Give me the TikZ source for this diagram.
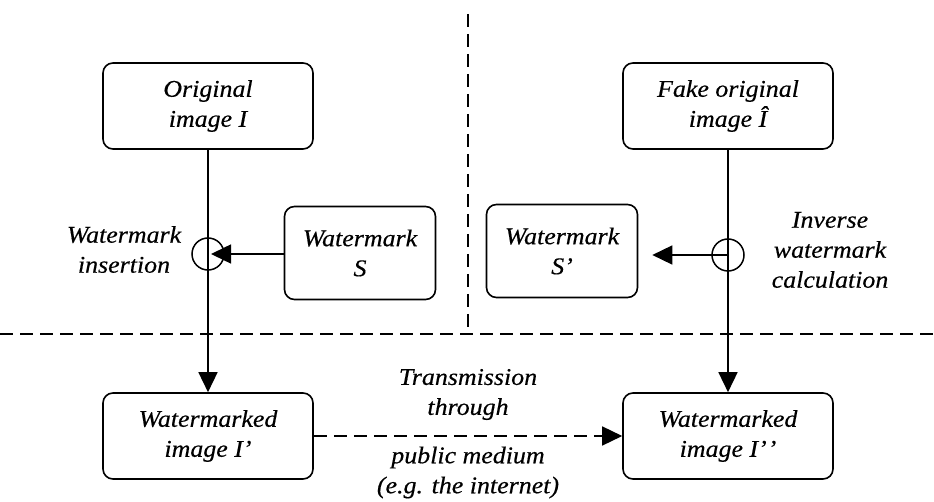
\documentclass[tikz,border=0pt]{standalone}
\usepackage{fontspec}
\newfontfamily\lbl{Liberation Serif}[FakeStretch=1.08, FakeBold=0.4]
\usetikzlibrary{arrows.meta}
\begin{document}
\begin{tikzpicture}[x=1pt,y=-1pt,
  font=\lbl\itshape\fontsize{24}{30}\selectfont,
  every node/.style={align=center},
  box/.style={draw, line width=1.6pt, rounded corners=10pt, inner sep=0pt},
  bigbox/.style={box, minimum width=210pt, minimum height=86pt},
  smallbox/.style={box, minimum width=151pt, minimum height=93pt},
  ring/.style={draw, circle, line width=1.5pt, minimum size=32pt, inner sep=0pt},
  conn/.style={line width=1.5pt},
  arr/.style={conn, -{Triangle[length=20pt, width=19pt]}},
  div/.style={line width=1.5pt, dash pattern=on 13pt off 7pt},
  tdash/.style={dash pattern=on 13pt off 7pt}]
\useasboundingbox (0,0) rectangle (934,502);

% dividers
\coordinate (vt) at (468,14);
\coordinate (vb) at (468,334);
\coordinate (hl) at (0,334);
\coordinate (hr) at (934,334);
\draw[div] (vt) -- (vb);
\draw[div] (hl) -- (hr);

% boxes
\node[bigbox] (orig) at (208,106) {Original\\image I};
\node[bigbox] (fake) at (728,106) {Fake original\\image Î};
\node[smallbox] (ws) at (360,253) {Watermark\\S};
\node[smallbox] (ws2) at (562,251) {Watermark\\S’};
\node[bigbox] (wm1) at (208,436) {Watermarked\\image I’};
\node[bigbox] (wm2) at (728,436) {Watermarked\\image I’\kern1pt’};

% operators
\node[ring] (c1) at (208,254) {};
\node[ring] (c2) at (728,255) {};

% labels
\node (l1) at (124,249.5) {Watermark\\insertion};
\node (l2) at (830,250) {Inverse\\watermark\\calculation};
\node (l3) at (468,394.5) {Transmission\\through};
\node (l4) at (468,472.5) {public medium\\(e.g. the internet)};

% connectors
\coordinate (s2tip) at ([xshift=14pt]ws2.east);
\draw[conn] (orig.south) -- (c1.center);
\draw[arr] (c1.center) -- (wm1.north);
\draw[arr] (ws.west |- c1) -- ([xshift=3pt]c1.center);
\draw[conn] (fake.south) -- (c2.center);
\draw[arr] (c2.center) -- (wm2.north);
\draw[arr] (c2.center) -- (c2.center -| s2tip);
\draw[arr, tdash] (wm1.east) -- (wm2.west);
\end{tikzpicture}
\end{document}
